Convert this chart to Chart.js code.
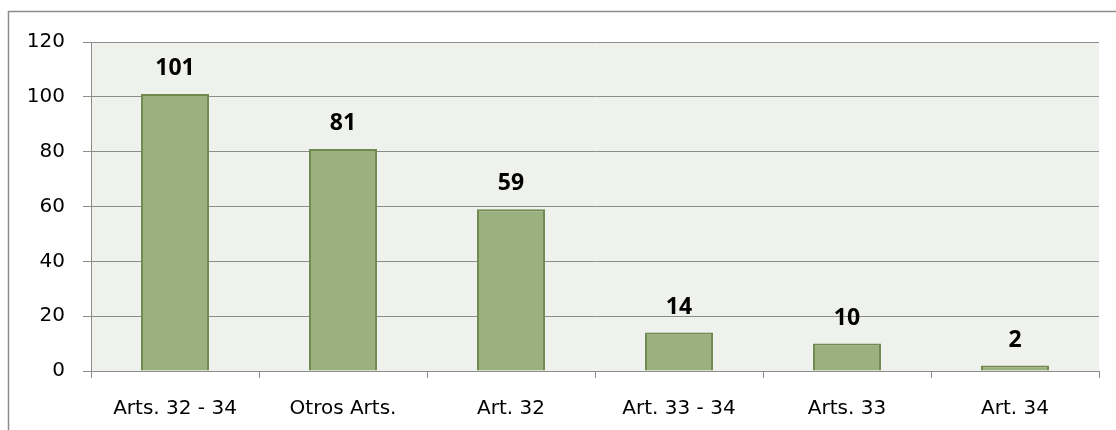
<!DOCTYPE html>
<html>
<head>
<meta charset="utf-8">
<script src="https://cdn.jsdelivr.net/npm/chart.js@4.4.0/dist/chart.umd.min.js"></script>
<style>
html,body{margin:0;padding:0;background:#fff;}
#wrap{width:1116px;height:430px;position:relative;}
</style>
</head>
<body>
<div id="wrap"><canvas id="c" width="1116" height="430"></canvas></div>
<script>
const categories = ["Arts. 32 - 34", "Otros Arts.", "Art. 32", "Art. 33 - 34", "Arts. 33", "Art. 34"];
const values = [101, 81, 59, 14, 10, 2];
const yTicks = [0, 20, 40, 60, 80, 100, 120];

const FONT = "'DejaVu Sans', sans-serif";
const LABEL_FONT = "bold 23px 'Open Sans', sans-serif";

const framePlugin = {
  id: 'frame',
  beforeDraw(chart) {
    const ctx = chart.ctx;
    const a = chart.chartArea;
    ctx.save();
    ctx.fillStyle = '#ffffff';
    ctx.fillRect(0, 0, chart.width, chart.height);
    ctx.strokeStyle = '#8c8c8c';
    ctx.lineWidth = 1.5;
    ctx.beginPath();
    ctx.moveTo(8.5, chart.height);
    ctx.lineTo(8.5, 11.5);
    ctx.lineTo(chart.width, 11.5);
    ctx.stroke();
    ctx.fillStyle = '#eff1ec';
    ctx.fillRect(a.left, a.top, a.right - a.left, a.bottom - a.top);
    ctx.restore();
  }
};

const labelPlugin = {
  id: 'vlabels',
  afterDatasetsDraw(chart) {
    const ctx = chart.ctx;
    const meta = chart.getDatasetMeta(0);
    ctx.save();
    ctx.fillStyle = '#000';
    ctx.font = LABEL_FONT;
    ctx.textAlign = 'center';
    ctx.textBaseline = 'alphabetic';
    meta.data.forEach((bar, i) => {
      ctx.fillText(String(values[i]), bar.x, bar.y - 19);
    });
    ctx.restore();
  }
};

new Chart(document.getElementById('c'), {
  type: 'bar',
  data: {
    labels: categories,
    datasets: [{
      data: values,
      backgroundColor: '#9bb07f',
      borderColor: '#71894f',
      borderWidth: 2,
      barPercentage: 0.405,
      categoryPercentage: 1.0
    }]
  },
  options: {
    responsive: false,
    animation: false,
    layout: { padding: { left: 0, top: 42, right: 17, bottom: 0 } },
    plugins: { legend: { display: false }, tooltip: { enabled: false } },
    scales: {
      x: {
        grid: { offset: true, drawOnChartArea: false, drawTicks: true, tickLength: 7, color: '#8c8c8c', lineWidth: 1 },
        border: { display: true, color: '#8c8c8c', width: 1 },
        ticks: { color: '#000', font: { family: FONT, size: 20 }, padding: 19, maxRotation: 0, autoSkip: false },
        afterFit(s) { s.height = 59; }
      },
      y: {
        min: 0, max: 120,
        afterBuildTicks(s) { s.ticks = yTicks.map(v => ({ value: v })); },
        grid: { color: '#8c8c8c', lineWidth: 1, tickLength: 8, drawTicks: true },
        border: { display: true, color: '#8c8c8c', width: 1 },
        ticks: { color: '#000', font: { family: FONT, size: 20 }, padding: 18 },
        afterFit(s) { s.width = 91; }
      }
    }
  },
  plugins: [framePlugin, labelPlugin]
});
</script>
</body>
</html>
